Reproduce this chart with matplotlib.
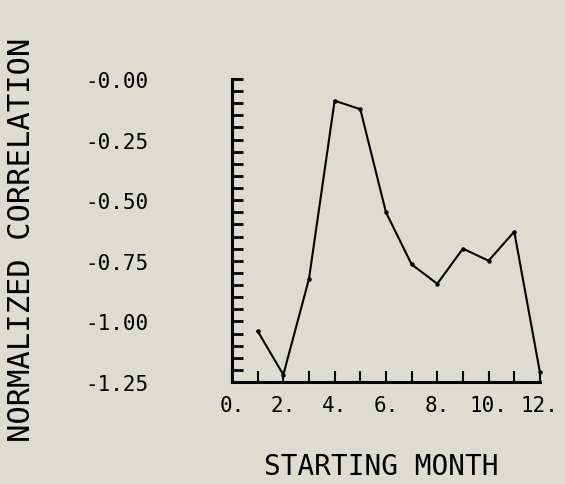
import matplotlib as mpl
mpl.use('Agg')
import matplotlib.pyplot as plt
from matplotlib.ticker import MultipleLocator, FuncFormatter

# normalized correlation for each starting month
months = [1, 2, 3, 4, 5, 6, 7, 8, 9, 10, 11, 12]
corr = [-1.04, -1.22, -0.825, -0.09, -0.125, -0.55, -0.765, -0.845, -0.70, -0.75, -0.63, -1.21]

y_ticks = [0.0, -0.25, -0.50, -0.75, -1.00, -1.25]
x_ticks = [0, 2, 4, 6, 8, 10, 12]

bg = '#dcdcd0'
mpl.rcParams['font.family'] = 'DejaVu Sans Mono'

fig = plt.figure(figsize=(5.65, 4.85), dpi=100, facecolor=bg)
ax = fig.add_axes([0.4106, 0.2103, 0.545, 0.625])
ax.set_facecolor(bg)

ax.plot(months, corr, color='black', lw=1.5, marker='o', ms=2.2, clip_on=False)

ax.set_xlim(0, 12)
ax.set_ylim(-1.25, 0.0)

for side in ['top', 'right']:
    ax.spines[side].set_visible(False)
for side in ['left', 'bottom']:
    ax.spines[side].set_linewidth(2.2)

ax.set_xticks(x_ticks)
ax.xaxis.set_minor_locator(MultipleLocator(1))
ax.xaxis.set_major_formatter(FuncFormatter(lambda v, p: '%d.' % v))
ax.set_yticks(y_ticks)
ax.yaxis.set_minor_locator(MultipleLocator(0.05))
ax.yaxis.set_major_formatter(FuncFormatter(lambda v, p: '-%.2f' % abs(v)))

ax.tick_params(axis='x', which='both', direction='in', length=8, width=1.5,
               labelsize=15, pad=9)
ax.tick_params(axis='y', which='both', direction='in', length=8, width=2,
               labelsize=15, pad=60)

fig.text(22 / 565, 1 - 240 / 485, 'NORMALIZED CORRELATION', rotation=90,
         ha='center', va='center', fontsize=22)
fig.text(381 / 565, 1 - 467 / 485, 'STARTING MONTH',
         ha='center', va='center', fontsize=20)

plt.savefig('out.png', dpi=100, facecolor=bg)
